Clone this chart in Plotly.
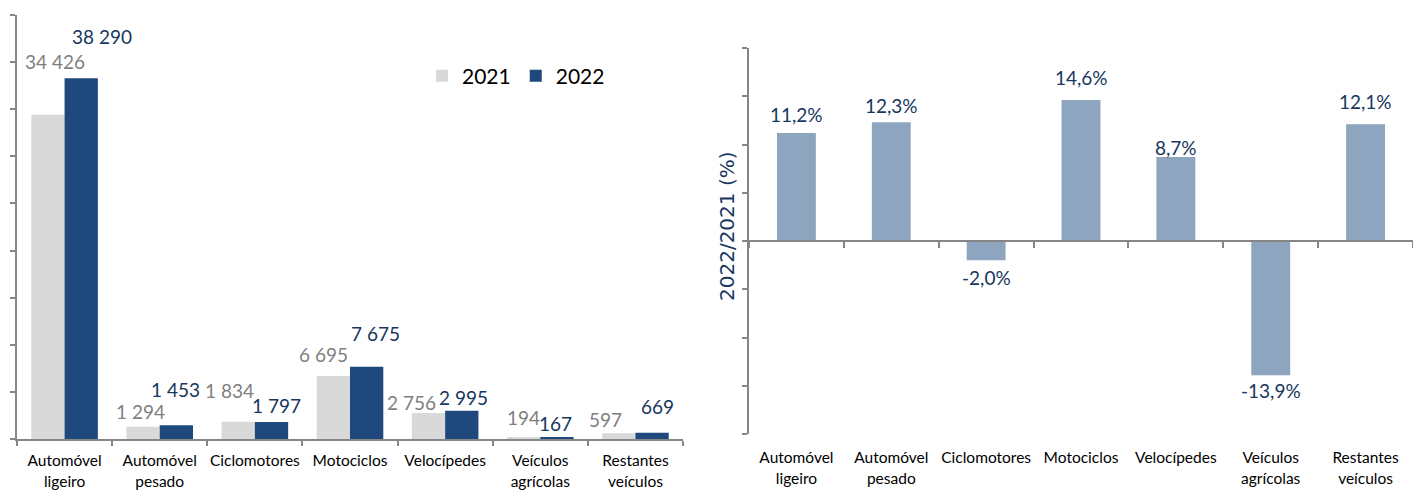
import plotly.graph_objects as go

# ---------------- data ----------------
categories = ["Automóvel<br>ligeiro", "Automóvel<br>pesado", "Ciclomotores", "Motociclos",
              "Velocípedes", "Veículos<br>agrícolas", "Restantes<br>veículos"]
values_2021 = [34426, 1294, 1834, 6695, 2756, 194, 597]
values_2022 = [38290, 1453, 1797, 7675, 2995, 167, 669]
labels_2021 = ["34 426", "1 294", "1 834", "6 695", "2 756", "194", "597"]
labels_2022 = ["38 290", "1 453", "1 797", "7 675", "2 995", "167", "669"]
variation = [11.2, 12.3, -2.0, 14.6, 8.7, -13.9, 12.1]
variation_labels = ["11,2%", "12,3%", "-2,0%", "14,6%", "8,7%", "-13,9%", "12,1%"]

# ---------------- styling / label offsets (px) ----------------
W, H = 1413, 491
C2021, C2022, CVAR = "#D9D9D9", "#1F497D", "#8EA5C0"
LAB2021, LAB2022 = "#7F7F7F", "#17375E"
AXIS = "#868686"
FONT = "Lato"

off_2021 = [(-10, 53), (-19, 15), (-25, 31), (-27, 21), (-34, 11), (-17, 20), (-30, 14)]
off_2022 = [(37, 42), (16, 36), (22, 17), (25, 33), (18, 13), (15, 14), (22, 26)]
off_var = [18, 17, -17, 23, 10, -15, 23]

def px_x(p):
    return p / W

def px_y(p):
    return 1 - p / H

fig = go.Figure()
fig.add_trace(go.Bar(x=categories, y=values_2021, name="2021", marker=dict(color=C2021, line=dict(width=0)),
                     xaxis="x", yaxis="y"))
fig.add_trace(go.Bar(x=categories, y=values_2022, name="2022", marker=dict(color=C2022, line=dict(width=0)),
                     xaxis="x", yaxis="y"))
fig.add_trace(go.Bar(x=categories, y=variation, name="2022/2021", showlegend=False,
                     marker=dict(color=CVAR, line=dict(width=0)), xaxis="x2", yaxis="y2", width=0.41))

annotations = []
for cat, v, lab, (dx, dy) in zip(categories, values_2021, labels_2021, off_2021):
    annotations.append(dict(x=cat, y=v, xref="x", yref="y", text=lab, showarrow=False,
                            xshift=dx, yshift=dy, font=dict(family=FONT, size=19, color=LAB2021)))
for cat, v, lab, (dx, dy) in zip(categories, values_2022, labels_2022, off_2022):
    annotations.append(dict(x=cat, y=v, xref="x", yref="y", text=lab, showarrow=False,
                            xshift=dx, yshift=dy, font=dict(family=FONT, size=19, color=LAB2022)))
for cat, v, lab, dy in zip(categories, variation, variation_labels, off_var):
    annotations.append(dict(x=cat, y=v, xref="x2", yref="y2", text=lab, showarrow=False,
                            yshift=dy, font=dict(family=FONT, size=19, color=LAB2022)))
annotations.append(dict(x=px_x(727), y=px_y(226), xref="paper", yref="paper", text="2022/2021 (%)",
                        textangle=-90, showarrow=False,
                        font=dict(family="DejaVu Sans", size=20, color="#17375E")))

zero_pos = px_y(241)

fig.update_layout(
    width=W, height=H,
    margin=dict(l=0, r=0, t=0, b=0, autoexpand=False),
    paper_bgcolor="white", plot_bgcolor="white",
    barmode="group", bargap=0.3, bargroupgap=0,
    font=dict(family=FONT, size=16, color="#000000"),
    showlegend=True,
    legend=dict(orientation="h", x=px_x(422), y=px_y(76), xanchor="left", yanchor="middle",
                font=dict(family=FONT, size=21, color="#000000"), bgcolor="rgba(0,0,0,0)",
                itemwidth=30, traceorder="normal"),
    xaxis=dict(domain=[px_x(17), px_x(683)], anchor="y", type="category",
               showline=True, linecolor=AXIS, linewidth=1.5,
               ticks="outside", ticklen=5, tickcolor=AXIS, tickwidth=1.5, tickson="boundaries",
               tickangle=0,
               tickfont=dict(family=FONT, size=15.5, color="#000000"), ticklabelstandoff=7,
               showgrid=False, zeroline=False),
    yaxis=dict(domain=[px_y(439), px_y(15)], anchor="x", range=[0, 45000], dtick=5000,
               showline=True, linecolor=AXIS, linewidth=1.5,
               ticks="outside", ticklen=5, tickcolor=AXIS, tickwidth=1.5,
               showticklabels=False, showgrid=False, zeroline=False),
    xaxis2=dict(domain=[px_x(749), 1.0], anchor="free", position=zero_pos, type="category", tickangle=0,
                showline=True, linecolor=AXIS, linewidth=1.5,
                ticks="outside", ticklen=6, tickcolor=AXIS, tickwidth=1.5, tickson="boundaries",
                tickfont=dict(family=FONT, size=15.5, color="#000000"),
                ticklabelstandoff=203, showgrid=False, zeroline=False),
    yaxis2=dict(domain=[px_y(434), px_y(48)], anchor="x2", range=[-20, 20], dtick=5,
                showline=True, linecolor=AXIS, linewidth=1.5,
                ticks="outside", ticklen=5, tickcolor=AXIS, tickwidth=1.5,
                showticklabels=False, showgrid=False, zeroline=False),
    annotations=annotations,
)

fig.write_html("out.html", config={"displayModeBar": False},
               post_script="document.body.style.margin='0';document.body.style.overflow='hidden';")
